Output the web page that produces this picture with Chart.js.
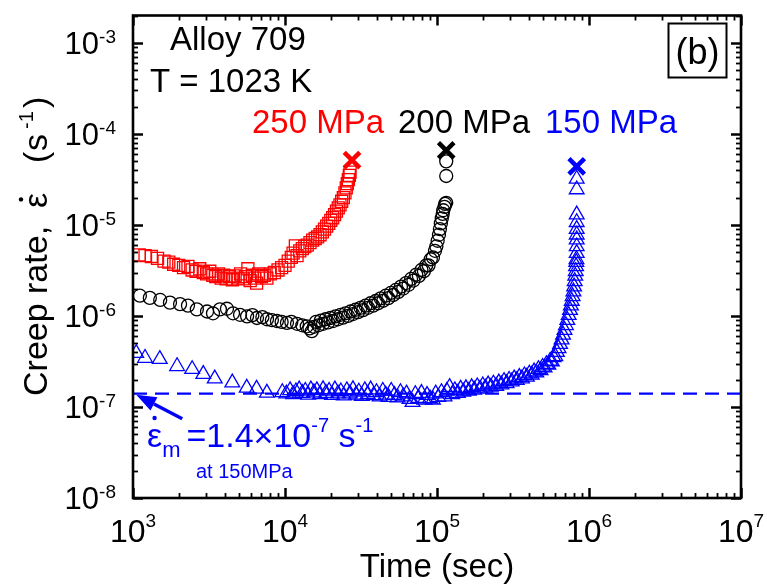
<!DOCTYPE html>
<html>
<head>
<meta charset="utf-8">
<script src="https://cdn.jsdelivr.net/npm/chart.js@4.4.1/dist/chart.umd.min.js"></script>
<style>
  html, body { margin: 0; padding: 0; background: #fff; }
  canvas { display: block; }
</style>
</head>
<body>
<canvas id="c" width="767" height="586"></canvas>
<script>
// Creep rate vs. time, Alloy 709 at 1023 K, three stress levels

const xTickExps = [3, 4, 5, 6, 7];
const yTickExps = [-8, -7, -6, -5, -4, -3];
const xMin = 1e3, xMax = 1e7;
const yMin = 1e-8, yMax = 2e-3;

// 250 MPa
const t250 = [1.10e3, 1.20e3, 1.32e3, 1.45e3, 1.60e3, 1.72e3, 1.85e3, 2.00e3, 2.15e3, 2.30e3,
  2.45e3, 2.60e3, 2.75e3, 2.90e3, 3.05e3, 3.20e3, 3.35e3, 3.50e3, 3.65e3, 3.80e3,
  3.95e3, 4.10e3, 4.30e3, 4.50e3, 4.70e3, 4.90e3, 5.10e3, 5.30e3, 5.50e3, 5.70e3,
  5.90e3, 6.10e3, 6.30e3, 6.50e3, 6.70e3, 7.00e3, 7.30e3, 7.60e3, 8.00e3, 8.50e3,
  9.00e3, 9.50e3, 1.00e4, 1.05e4, 1.10e4, 1.13e4, 1.17e4, 1.20e4, 1.25e4, 1.30e4,
  1.35e4, 1.40e4, 1.46e4, 1.52e4, 1.58e4, 1.64e4, 1.70e4, 1.76e4, 1.82e4, 1.88e4,
  1.94e4, 2.00e4, 2.06e4, 2.12e4, 2.18e4, 2.24e4, 2.30e4, 2.36e4, 2.42e4, 2.48e4,
  2.53e4, 2.57e4, 2.61e4, 2.65e4, 2.68e4];
const r250 = [4.7e-6, 4.6e-6, 4.5e-6, 4.3e-6, 4.0e-6, 3.9e-6, 3.7e-6, 3.6e-6, 3.4e-6, 3.5e-6,
  3.2e-6, 3.1e-6, 3.3e-6, 3.0e-6, 2.9e-6, 3.1e-6, 2.8e-6, 2.7e-6, 2.9e-6, 2.6e-6,
  2.8e-6, 2.55e-6, 2.7e-6, 2.5e-6, 2.75e-6, 2.6e-6, 2.9e-6, 2.55e-6, 2.7e-6, 3.3e-6,
  2.45e-6, 2.8e-6, 2.6e-6, 2.3e-6, 2.9e-6, 2.7e-6, 2.8e-6, 2.6e-6, 2.9e-6, 3.0e-6,
  3.2e-6, 3.4e-6, 3.6e-6, 4.0e-6, 4.4e-6, 4.9e-6, 5.9e-6, 4.6e-6, 5.2e-6, 5.5e-6,
  5.8e-6, 6.0e-6, 6.4e-6, 6.8e-6, 7.1e-6, 7.4e-6, 7.8e-6, 8.4e-6, 9.0e-6, 9.7e-6,
  1.04e-5, 1.12e-5, 1.2e-5, 1.3e-5, 1.42e-5, 1.54e-5, 1.66e-5, 1.82e-5, 2.0e-5, 2.25e-5,
  2.55e-5, 2.85e-5, 3.15e-5, 3.5e-5, 3.8e-5];

// 200 MPa
const t200 = [1.11e3, 1.29e3, 1.51e3, 1.75e3, 2.04e3, 2.30e3, 2.63e3, 3.07e3, 3.36e3, 3.73e3,
  4.15e3, 4.55e3, 5.06e3, 5.63e3, 6.10e3, 6.54e3, 7.10e3, 7.61e3, 8.20e3, 8.85e3,
  9.50e3, 1.03e4, 1.10e4, 1.20e4, 1.30e4, 1.39e4, 1.45e4, 1.50e4, 1.55e4, 1.60e4,
  1.66e4, 1.72e4, 1.78e4, 1.85e4, 1.92e4, 1.99e4, 2.07e4, 2.15e4, 2.23e4, 2.32e4,
  2.41e4, 2.50e4, 2.60e4, 2.70e4, 2.80e4, 2.91e4, 3.02e4, 3.14e4, 3.26e4, 3.39e4,
  3.52e4, 3.66e4, 3.80e4, 3.95e4, 4.10e4, 4.26e4, 4.43e4, 4.60e4, 4.78e4, 4.97e4,
  5.16e4, 5.36e4, 5.57e4, 5.79e4, 6.00e4, 6.25e4, 6.50e4, 6.75e4, 7.00e4, 7.30e4,
  7.60e4, 7.90e4, 8.20e4, 8.50e4, 8.80e4, 9.10e4, 9.40e4, 9.70e4, 9.90e4, 1.01e5,
  1.03e5, 1.045e5, 1.06e5, 1.075e5, 1.09e5, 1.10e5, 1.12e5, 1.13e5, 1.15e5, 1.15e5,
  1.15e5];
const r200 = [1.67e-6, 1.58e-6, 1.50e-6, 1.40e-6, 1.35e-6, 1.30e-6, 1.18e-6, 1.12e-6, 1.07e-6, 1.18e-6,
  1.20e-6, 1.07e-6, 1.03e-6, 9.9e-7, 1.02e-6, 9.5e-7, 9.7e-7, 9.2e-7, 9.0e-7, 8.8e-7,
  8.6e-7, 8.4e-7, 8.6e-7, 8.2e-7, 7.9e-7, 7.7e-7, 7.3e-7, 6.8e-7, 7.6e-7, 8.6e-7,
  7.9e-7, 8.9e-7, 8.2e-7, 9.2e-7, 8.5e-7, 9.5e-7, 8.8e-7, 9.9e-7, 9.2e-7, 1.03e-6,
  9.6e-7, 1.07e-6, 1.0e-6, 1.12e-6, 1.05e-6, 1.17e-6, 1.1e-6, 1.23e-6, 1.16e-6, 1.3e-6,
  1.23e-6, 1.38e-6, 1.3e-6, 1.46e-6, 1.38e-6, 1.56e-6, 1.47e-6, 1.67e-6, 1.57e-6, 1.79e-6,
  1.7e-6, 1.93e-6, 1.84e-6, 2.1e-6, 2.0e-6, 2.3e-6, 2.2e-6, 2.55e-6, 2.45e-6, 2.85e-6,
  2.75e-6, 3.2e-6, 3.1e-6, 3.6e-6, 3.6e-6, 4.2e-6, 4.4e-6, 5.2e-6, 5.8e-6, 6.7e-6,
  7.8e-6, 9.0e-6, 1.04e-5, 1.18e-5, 1.32e-5, 1.45e-5, 1.58e-5, 1.7e-5, 1.75e-5, 3.45e-5,
  5.0e-5];

// 150 MPa
const t150 = [1.05e3, 1.20e3, 1.50e3, 1.95e3, 2.45e3, 2.90e3, 3.45e3, 4.50e3, 5.60e3, 6.50e3,
  7.60e3, 9.60e3, 1.02e4, 1.08e4, 1.13e4, 1.18e4, 1.24e4, 1.30e4, 1.36e4, 1.42e4,
  1.48e4, 1.55e4, 1.62e4, 1.70e4, 1.78e4, 1.86e4, 1.95e4, 2.04e4, 2.13e4, 2.23e4,
  2.33e4, 2.44e4, 2.55e4, 2.67e4, 2.80e4, 2.93e4, 3.06e4, 3.20e4, 3.35e4, 3.50e4,
  3.66e4, 3.83e4, 4.00e4, 4.20e4, 4.40e4, 4.60e4, 4.80e4, 5.00e4, 5.25e4, 5.50e4,
  5.75e4, 6.00e4, 6.30e4, 6.60e4, 6.90e4, 7.20e4, 7.55e4, 7.90e4, 8.25e4, 8.60e4,
  9.00e4, 9.40e4, 9.80e4, 1.02e5, 1.07e5, 1.12e5, 1.16e5, 1.21e5, 1.26e5, 1.31e5,
  1.37e5, 1.43e5, 1.49e5, 1.55e5, 1.62e5, 1.69e5, 1.76e5, 1.84e5, 1.92e5, 2.00e5,
  2.08e5, 2.17e5, 2.26e5, 2.35e5, 2.45e5, 2.55e5, 2.65e5, 2.76e5, 2.87e5, 2.98e5,
  3.10e5, 3.22e5, 3.35e5, 3.48e5, 3.62e5, 3.76e5, 3.90e5, 4.05e5, 4.20e5, 4.35e5,
  4.50e5, 4.65e5, 4.80e5, 4.95e5, 5.10e5, 5.25e5, 5.40e5, 5.55e5, 5.70e5, 5.85e5,
  6.00e5, 6.15e5, 6.30e5, 6.45e5, 6.60e5, 6.75e5, 6.90e5, 7.05e5, 7.20e5, 7.35e5,
  7.50e5, 7.60e5, 7.70e5, 7.80e5, 7.90e5, 7.98e5, 8.05e5, 8.12e5, 8.18e5, 8.22e5,
  8.25e5, 8.27e5, 8.30e5, 8.30e5, 8.30e5, 8.30e5, 8.30e5, 8.30e5, 8.30e5, 8.30e5,
  8.30e5];
const r150 = [3.9e-7, 3.45e-7, 3.35e-7, 2.8e-7, 2.6e-7, 2.3e-7, 2.05e-7, 1.85e-7, 1.62e-7, 1.58e-7,
  1.43e-7, 1.45e-7, 1.4e-7, 1.52e-7, 1.38e-7, 1.48e-7, 1.55e-7, 1.42e-7, 1.5e-7, 1.36e-7,
  1.55e-7, 1.44e-7, 1.52e-7, 1.38e-7, 1.56e-7, 1.42e-7, 1.5e-7, 1.35e-7, 1.55e-7, 1.4e-7,
  1.48e-7, 1.33e-7, 1.52e-7, 1.4e-7, 1.56e-7, 1.36e-7, 1.47e-7, 1.32e-7, 1.52e-7, 1.38e-7,
  1.55e-7, 1.34e-7, 1.45e-7, 1.3e-7, 1.5e-7, 1.36e-7, 1.28e-7, 1.5e-7, 1.35e-7, 1.27e-7,
  1.45e-7, 1.3e-7, 1.4e-7, 1.22e-7, 1.13e-7, 1.38e-7, 1.25e-7, 1.42e-7, 1.2e-7, 1.35e-7,
  1.24e-7, 1.2e-7, 1.4e-7, 1.28e-7, 1.45e-7, 1.3e-7, 1.5e-7, 1.65e-7, 1.38e-7, 1.52e-7,
  1.42e-7, 1.58e-7, 1.47e-7, 1.6e-7, 1.5e-7, 1.64e-7, 1.54e-7, 1.68e-7, 1.58e-7, 1.72e-7,
  1.62e-7, 1.76e-7, 1.66e-7, 1.8e-7, 1.7e-7, 1.85e-7, 1.76e-7, 1.92e-7, 1.82e-7, 1.98e-7,
  1.9e-7, 2.05e-7, 1.97e-7, 2.13e-7, 2.05e-7, 2.22e-7, 2.14e-7, 2.32e-7, 2.25e-7, 2.45e-7,
  2.38e-7, 2.6e-7, 2.52e-7, 2.75e-7, 2.7e-7, 2.95e-7, 2.9e-7, 3.2e-7, 3.15e-7, 3.5e-7,
  3.6e-7, 4.0e-7, 4.4e-7, 4.9e-7, 5.5e-7, 6.2e-7, 7.0e-7, 7.9e-7, 9.0e-7, 1.02e-6,
  1.16e-6, 1.3e-6, 1.46e-6, 1.64e-6, 1.85e-6, 2.1e-6, 2.4e-6, 2.75e-6, 3.1e-6, 3.5e-6,
  3.9e-6, 4.2e-6, 4.9e-6, 5.8e-6, 6.9e-6, 7.8e-6, 9.0e-6, 1.07e-5, 1.3e-5, 2.45e-5,
  3.2e-5];

// rupture points (250, 200, 150 MPa)
const ruptureTimes = [2.76e4, 1.15e5, 8.3e5];
const ruptureRates = [5.15e-5, 6.6e-5, 4.4e-5];

// minimum creep rate at 150 MPa
const minRate150 = 1.4e-7;

const FONT = '"Liberation Sans", Arial, Helvetica, sans-serif';
const RED = '#ff0000', BLACK = '#000000', BLUE = '#0000ff';
const CLEAR = 'rgba(0,0,0,0)';

const pts = (ts, rs) => ts.map((t, i) => ({ x: t, y: rs[i] }));

function drawPow(ctx, exp, x, base, bigPx, smallPx, rise, align) {
  ctx.font = bigPx + 'px ' + FONT;
  const wb = ctx.measureText('10').width;
  ctx.font = smallPx + 'px ' + FONT;
  const ws = ctx.measureText(String(exp)).width;
  const total = wb + ws;
  let left = align === 'right' ? x - total : x - total / 2;
  ctx.textAlign = 'left';
  ctx.font = bigPx + 'px ' + FONT;
  ctx.fillText('10', left, base);
  ctx.font = smallPx + 'px ' + FONT;
  ctx.fillText(String(exp), left + wb, base - rise);
}

const overlay = {
  id: 'overlay',
  afterDraw(chart) {
    const { ctx, chartArea: a, scales } = chart;
    const xs = scales.x, ys = scales.y;
    ctx.save();
    ctx.fillStyle = '#000';
    ctx.strokeStyle = '#000';
    ctx.textBaseline = 'alphabetic';

    // inward ticks on all four sides
    const tick = (x1, y1, x2, y2, w) => {
      ctx.lineWidth = w;
      ctx.beginPath(); ctx.moveTo(x1, y1); ctx.lineTo(x2, y2); ctx.stroke();
    };
    for (let i = 0; i < xTickExps.length; i++) {
      const e = xTickExps[i];
      for (let m = 1; m <= 9; m++) {
        const v = m * Math.pow(10, e);
        if (v > xMax * 1.0001) break;
        const px = Math.round(xs.getPixelForValue(v)) + 0.5;
        const major = m === 1, len = major ? 10 : 5, w = major ? 2.5 : 1.8;
        tick(px, a.bottom, px, a.bottom - len, w);
        tick(px, a.top, px, a.top + len, w);
      }
    }
    for (let i = 0; i < yTickExps.length; i++) {
      const e = yTickExps[i];
      for (let m = 1; m <= 9; m++) {
        const v = m * Math.pow(10, e);
        if (v > yMax * 1.0001) break;
        const py = Math.round(ys.getPixelForValue(v)) + 0.5;
        const major = m === 1, len = major ? 10 : 5, w = major ? 2.5 : 1.8;
        tick(a.left, py, a.left + len, py, w);
        tick(a.right, py, a.right - len, py, w);
      }
    }

    // frame
    ctx.lineWidth = 2.6;
    ctx.strokeRect(a.left, a.top, a.right - a.left, a.bottom - a.top);

    // tick labels
    for (const e of yTickExps) {
      const py = ys.getPixelForValue(Math.pow(10, e));
      drawPow(ctx, '-' + Math.abs(e), a.left - 17, py + 11, 31, 19, 11, 'right');
    }
    for (const e of xTickExps) {
      const px = xs.getPixelForValue(Math.pow(10, e));
      drawPow(ctx, e, px, a.bottom + 44, 32, 19, 15, 'center');
    }

    // axis titles
    ctx.font = '33px ' + FONT;
    ctx.textAlign = 'center';
    ctx.fillText('Time (sec)', (a.left + a.right) / 2, 577);

    ctx.save();
    ctx.translate(47, 396);
    ctx.rotate(-Math.PI / 2);
    ctx.textAlign = 'left';
    ctx.font = '34px ' + FONT;
    ctx.fillText('Creep rate,', 0, 0);
    ctx.fillText('\u03b5', 188, 0);
    const ew = ctx.measureText('\u03b5').width;
    ctx.beginPath(); ctx.arc(188 + ew / 2 + 1, -26, 2.2, 0, Math.PI * 2); ctx.fill();
    ctx.fillText('(', 233, 0);
    ctx.fillText('s', 245, 0);
    ctx.font = '20px ' + FONT;
    ctx.fillText('-1', 267, -14);
    ctx.font = '34px ' + FONT;
    ctx.fillText(')', 288, 0);
    ctx.restore();

    // panel texts
    ctx.textAlign = 'left';
    ctx.font = '33px ' + FONT;
    ctx.fillStyle = BLACK;
    ctx.fillText('Alloy 709', 170, 50);
    ctx.fillText('T = 1023 K', 150, 92);
    ctx.fillStyle = RED;   ctx.fillText('250 MPa', 252, 133);
    ctx.fillStyle = BLACK; ctx.fillText('200 MPa', 398, 133);
    ctx.fillStyle = BLUE;  ctx.fillText('150 MPa', 545, 133);

    // panel letter
    ctx.fillStyle = BLACK;
    ctx.lineWidth = 2;
    ctx.strokeRect(668.5, 23.5, 58, 54);
    ctx.font = '36px ' + FONT;
    ctx.textAlign = 'center';
    ctx.fillText('(b)', 697.5, 64);

    // minimum creep rate annotation
    ctx.fillStyle = BLUE;
    ctx.strokeStyle = BLUE;
    const tipX = xs.getPixelForValue(1.05e3), tipY = ys.getPixelForValue(minRate150) + 1;
    const tailX = tipX + 46, tailY = tipY + 24;
    const ang = Math.atan2(tipY - tailY, tipX - tailX);
    const hl = 20, hw = 7.5;
    const bx = tipX - Math.cos(ang) * hl, by = tipY - Math.sin(ang) * hl;
    ctx.lineWidth = 3.5;
    ctx.beginPath(); ctx.moveTo(tailX, tailY); ctx.lineTo(bx, by); ctx.stroke();
    ctx.beginPath();
    ctx.moveTo(tipX, tipY);
    ctx.lineTo(bx - Math.sin(ang) * hw, by + Math.cos(ang) * hw);
    ctx.lineTo(bx + Math.sin(ang) * hw, by - Math.cos(ang) * hw);
    ctx.closePath(); ctx.fill();

    ctx.textAlign = 'left';
    let x = 147;
    ctx.font = '34px ' + FONT;
    ctx.fillText('\u03b5', x, 447);
    const epw = ctx.measureText('\u03b5').width;
    ctx.beginPath(); ctx.arc(x + epw / 2, 418, 2.2, 0, Math.PI * 2); ctx.fill();
    x += epw;
    ctx.font = '22px ' + FONT;
    ctx.fillText('m', x, 457);
    x += ctx.measureText('m').width + 6;
    ctx.font = '34px ' + FONT;
    ctx.fillText('=1.4\u00d710', x, 447);
    x += ctx.measureText('=1.4\u00d710').width;
    ctx.font = '20px ' + FONT;
    ctx.fillText('-7', x, 432);
    x += ctx.measureText('-7').width;
    ctx.font = '34px ' + FONT;
    ctx.fillText(' s', x, 447);
    x += ctx.measureText(' s').width;
    ctx.font = '20px ' + FONT;
    ctx.fillText('-1', x, 432);
    ctx.font = '20px ' + FONT;
    ctx.fillText('at 150MPa', 196, 478);

    ctx.restore();
  }
};

new Chart(document.getElementById('c'), {
  type: 'scatter',
  data: {
    datasets: [
      {
        label: 'rupture',
        data: pts(ruptureTimes, ruptureRates),
        pointStyle: 'crossRot',
        pointRadius: 11,
        pointBorderWidth: 4.5,
        pointBorderColor: [RED, BLACK, BLUE],
        pointBackgroundColor: CLEAR,
        order: 0
      },
      {
        label: '250 MPa',
        data: pts(t250, r250),
        pointStyle: 'rect',
        pointRadius: 8.5,
        pointBorderWidth: 1.3,
        pointBorderColor: RED,
        pointBackgroundColor: CLEAR,
        order: 1
      },
      {
        label: '200 MPa',
        data: pts(t200, r200),
        pointStyle: 'circle',
        pointRadius: 6.5,
        pointBorderWidth: 1.3,
        pointBorderColor: BLACK,
        pointBackgroundColor: CLEAR,
        order: 2
      },
      {
        label: '150 MPa',
        data: pts(t150, r150),
        pointStyle: 'triangle',
        pointRadius: 8.5,
        pointBorderWidth: 1.3,
        pointBorderColor: BLUE,
        pointBackgroundColor: CLEAR,
        order: 3
      },
      {
        type: 'line',
        label: 'minimum creep rate',
        data: [{ x: xMin, y: minRate150 }, { x: xMax, y: minRate150 }],
        showLine: true,
        borderColor: BLUE,
        borderWidth: 2.2,
        borderDash: [14, 8],
        pointRadius: 0,
        fill: false,
        order: 4
      }
    ]
  },
  options: {
    responsive: false,
    animation: false,
    events: [],
    layout: { padding: { top: 11, right: 26, left: 0, bottom: 0 } },
    plugins: { legend: { display: false }, tooltip: { enabled: false } },
    scales: {
      x: {
        type: 'logarithmic', min: xMin, max: xMax,
        grid: { display: false }, border: { display: false },
        ticks: { display: false },
        afterFit(s) { s.height = 88; }
      },
      y: {
        type: 'logarithmic', min: yMin, max: yMax,
        grid: { display: false }, border: { display: false },
        ticks: { display: false },
        afterFit(s) { s.width = 133; }
      }
    }
  },
  plugins: [overlay]
});
</script>
</body>
</html>
